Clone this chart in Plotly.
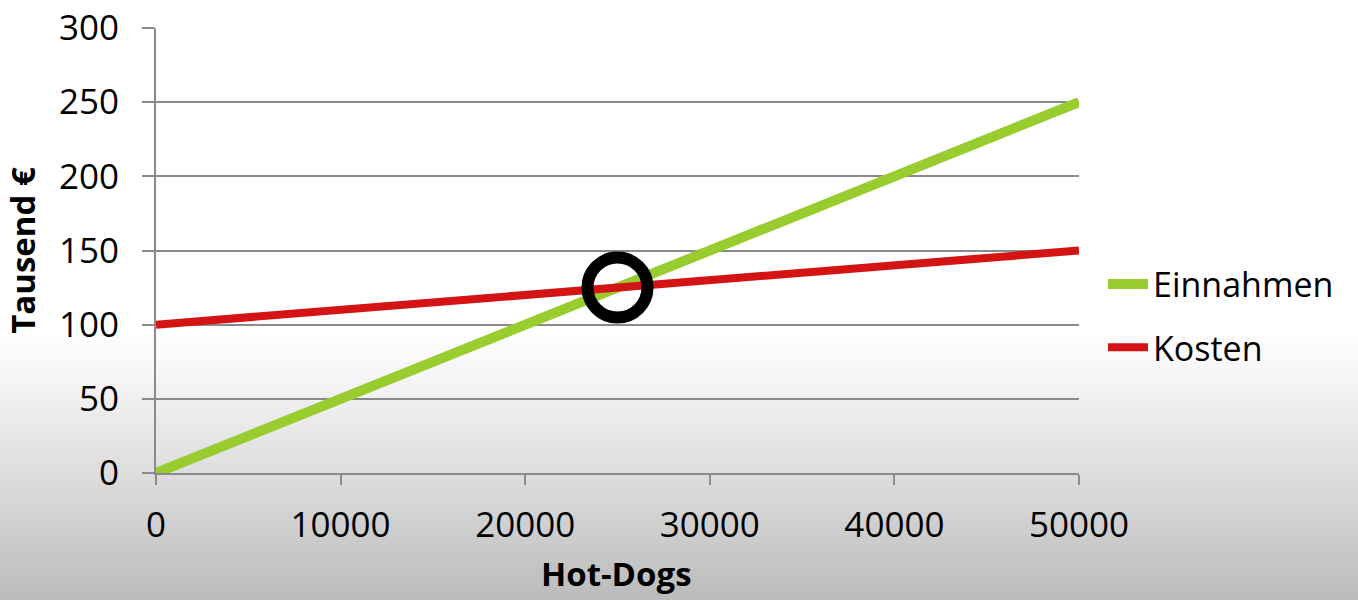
import plotly.graph_objects as go

# Hot-dog stand: revenue vs. cost (thousand €)
hot_dogs = [0, 10000, 20000, 30000, 40000, 50000]
einnahmen = [0, 50, 100, 150, 200, 250]
kosten = [100, 110, 120, 130, 140, 150]
break_even_x = [25000]
break_even_y = [125]

x_ticks = [0, 10000, 20000, 30000, 40000, 50000]
y_ticks = [0, 50, 100, 150, 200, 250, 300]

W, H = 1358, 600
M_L, M_R, M_T, M_B = 156, 279, 28, 127
plot_w = W - M_L - M_R
plot_h = H - M_T - M_B

GRID = "#8a8a8a"
FONT = "Open Sans"

fig = go.Figure()

fig.add_trace(go.Scatter(
    x=hot_dogs, y=einnahmen, mode="lines", name="Einnahmen",
    line=dict(color="#99cc2e", width=10), legendgroup="a",
))
fig.add_trace(go.Scatter(
    x=hot_dogs, y=kosten, mode="lines", name="Kosten",
    line=dict(color="#d41414", width=8), legendgroup="b",
))
fig.add_trace(go.Scatter(
    x=break_even_x, y=break_even_y, mode="markers", showlegend=False,
    marker=dict(symbol="circle-open", size=60, color="black",
                line=dict(color="black", width=12)),
    cliponaxis=False,
))

# soft grey shading toward the bottom of the page
shapes = []
top_px, n = 330, 45
for i in range(n):
    y0 = top_px + (H - top_px) * i / n
    y1 = top_px + (H - top_px) * (i + 1) / n + 1
    t = (i + 0.5) / n
    g = int(round(255 - 68 * t ** 1.1))
    shapes.append(dict(
        type="rect", xref="paper", yref="paper", layer="below",
        x0=-M_L / plot_w, x1=(W - M_L) / plot_w,
        y0=(H - M_B - y1) / plot_h, y1=(H - M_B - y0) / plot_h,
        fillcolor=f"rgb({g},{g},{g})", line=dict(width=0),
    ))

fig.update_layout(
    width=W, height=H,
    margin=dict(l=M_L, r=M_R, t=M_T, b=M_B, autoexpand=False),
    paper_bgcolor="white",
    plot_bgcolor="rgba(0,0,0,0)",
    shapes=shapes,
    font=dict(family=FONT, color="black"),
    showlegend=True,
    legend=dict(
        x=(1103 - M_L) / plot_w, xanchor="left",
        y=(H - M_B - 316) / plot_h, yanchor="middle",
        font=dict(size=34, family=FONT, color="black"),
        bgcolor="rgba(0,0,0,0)", tracegroupgap=16,
        itemwidth=40,
    ),
    annotations=[dict(
        text="<b>Hot-Dogs</b>", xref="paper", yref="paper",
        x=(616 - M_L) / plot_w, y=(H - M_B - 598) / plot_h,
        xanchor="center", yanchor="bottom", showarrow=False,
        font=dict(size=33, family=FONT, color="black"),
    )],
    xaxis=dict(
        range=[0, 50000], tickvals=x_ticks, ticktext=[str(v) for v in x_ticks],
        showgrid=False, zeroline=False, automargin=False,
        showline=True, linecolor=GRID, linewidth=2,
        ticks="outside", ticklen=10, tickwidth=2, tickcolor=GRID,
        tickfont=dict(size=35, family=FONT), ticklabelstandoff=10,
    ),
    yaxis=dict(
        range=[0, 300], tickvals=y_ticks, ticktext=[str(v) for v in y_ticks],
        showgrid=True, gridcolor=GRID, gridwidth=2, zeroline=False, automargin=False,
        showline=True, linecolor=GRID, linewidth=2,
        ticks="outside", ticklen=12, tickwidth=2, tickcolor=GRID,
        tickfont=dict(size=35, family=FONT), ticklabelstandoff=16,
        title=dict(text="<b>Tausend €</b>", font=dict(size=33, family=FONT), standoff=16),
    ),
)

fig.write_html("out.html")
